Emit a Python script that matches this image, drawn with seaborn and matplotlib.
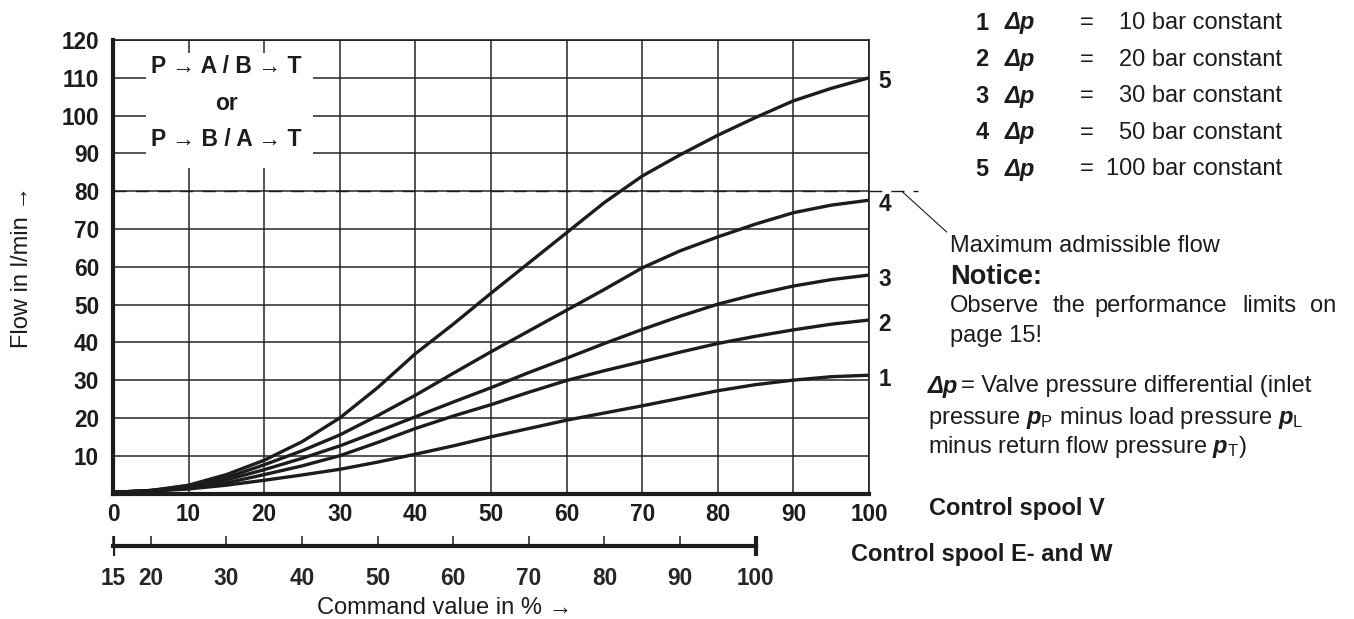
import matplotlib
matplotlib.use("Agg")
import matplotlib.pyplot as plt
import numpy as np
import pandas as pd
import seaborn as sns
from matplotlib import font_manager
from matplotlib.patches import Rectangle

# canvas size in pixels
W, H = 1354, 619

# command value in % (control spool V) and flow in l/min per curve
command = [0, 5, 10, 15, 20, 25, 30, 35, 40, 45, 50,
           55, 60, 65, 70, 75, 80, 85, 90, 95, 100]
flow_10bar = [0.3, 0.6, 1.2, 2.2, 3.5, 4.9, 6.4, 8.3, 10.4, 12.6, 15.0,
              17.2, 19.4, 21.3, 23.2, 25.2, 27.2, 28.8, 30.0, 30.9, 31.3]
flow_20bar = [0.3, 0.7, 1.5, 2.8, 5.0, 7.3, 10.0, 13.5, 17.2, 20.5, 23.5,
              26.8, 29.9, 32.5, 34.9, 37.4, 39.7, 41.6, 43.3, 44.8, 45.9]
flow_30bar = [0.3, 0.8, 1.7, 3.6, 6.3, 9.3, 12.6, 16.4, 20.3, 24.2, 28.0,
              32.0, 35.8, 39.7, 43.4, 46.9, 50.1, 52.7, 54.9, 56.6, 57.8]
flow_50bar = [0.3, 0.8, 1.9, 4.2, 7.6, 11.3, 15.5, 20.6, 26.0, 31.8, 37.5,
              43.0, 48.5, 54.0, 59.7, 64.2, 67.9, 71.3, 74.3, 76.3, 77.6]
flow_100bar = [0.3, 0.8, 2.2, 5.0, 8.8, 13.7, 20.0, 28.0, 37.0, 44.8, 53.0,
               61.0, 69.0, 77.0, 84.0, 89.6, 94.8, 99.5, 103.9, 107.2, 110.0]

curve_ids = ["1", "2", "3", "4", "5"]
dp_bar = [10, 20, 30, 50, 100]
x_ticks = [0, 10, 20, 30, 40, 50, 60, 70, 80, 90, 100]
y_ticks = [10, 20, 30, 40, 50, 60, 70, 80, 90, 100, 110, 120]
lower_ticks = [15, 20, 30, 40, 50, 60, 70, 80, 90, 100]   # control spool E and W
max_flow = 80

ink = "#1c1c1c"

sns.set_theme(style="white")
plt.rcParams["font.family"] = ["Liberation Sans", "DejaVu Sans"]
plt.rcParams["mathtext.fontset"] = "custom"
plt.rcParams["mathtext.rm"] = "Liberation Sans"
plt.rcParams["mathtext.it"] = "Liberation Sans:italic:bold"
plt.rcParams["mathtext.bf"] = "Liberation Sans:bold"
plt.rcParams["text.color"] = ink

# narrow bold digits like the datasheet, if the narrow face is there
have_narrow = "Liberation Sans Narrow" in {f.name for f in font_manager.fontManager.ttflist}
if have_narrow:
    tick_kw = dict(fontfamily=["Liberation Sans Narrow", "Liberation Sans"], fontweight="bold", fontsize=17)
else:
    tick_kw = dict(fontfamily=["Liberation Sans"], fontweight="bold", fontsize=16.3)

fs = 17


def fig_text(x, y, s, **kw):
    # place text by pixel position, measured from the top left
    return fig.text(x / W, 1 - y / H, s, **kw)


fig = plt.figure(figsize=(W / 100, H / 100), dpi=100)
ax = fig.add_axes([113 / W, 1 - 493.5 / H, 756 / W, 453.5 / H])

series = [flow_10bar, flow_20bar, flow_30bar, flow_50bar, flow_100bar]
df = pd.DataFrame({
    "command": np.tile(command, len(series)),
    "flow": np.concatenate(series),
    "curve": np.repeat(curve_ids, len(command)),
})

sns.lineplot(data=df, x="command", y="flow", hue="curve", palette=[ink] * 5,
             linewidth=2.4, legend=False, ax=ax, zorder=4)

ax.set_xlim(0, 100)
ax.set_ylim(0, 120)
ax.set_xticks(x_ticks)
ax.set_yticks([0] + y_ticks)
ax.set_xticklabels([str(v) for v in x_ticks], **tick_kw)
ax.set_yticklabels([""] + [str(v) for v in y_ticks], **tick_kw)
ax.tick_params(axis="both", length=0, colors=ink)
ax.tick_params(axis="x", pad=7)
ax.tick_params(axis="y", pad=10)
ax.grid(True, color="#262626", linewidth=1.1)
ax.set_axisbelow(True)
for side in ["left", "bottom"]:
    ax.spines[side].set_linewidth(3.0)
    ax.spines[side].set_color(ink)
for side in ["top", "right"]:
    ax.spines[side].set_linewidth(1.2)
    ax.spines[side].set_color(ink)

ax.set_xlabel("")
ax.set_ylabel("Flow in l/min →", fontsize=fs, color=ink)
ax.yaxis.set_label_coords(-0.106, 0.5)

# maximum admissible flow line runs out past the frame
ax.axhline(max_flow, xmin=0, xmax=(918 - 113) / 756, color=ink, linewidth=1.0,
           dashes=(9.5, 6.5), clip_on=False, zorder=3)

# direction box: white panel that breaks the grid, then the text
ax.add_patch(Rectangle((4.4, 86.1), 22.1, 30.4, facecolor="white", edgecolor="none", zorder=2))
ax.text(15, 103.3, "P → A / B → T\nor\nP → B / A → T", ha="center", va="center",
        ma="center", fontsize=16.5, fontweight="bold", linespacing=1.75, zorder=3)

# curve numbers at the right end
for cid, vals in zip(curve_ids, series):
    ax.annotate(cid, xy=(command[-1], vals[-1]), xytext=(7, -3),
                textcoords="offset points", ha="left", va="center",
                annotation_clip=False, **tick_kw)

# lower scale for control spool E- and W
ax2 = fig.add_axes([113 / W, 1 - 556 / H, 756 / W, 20 / H])
ax2.set_xlim(15, 115)
ax2.set_ylim(-1, 1)
ax2.patch.set_alpha(0)
for side in ["left", "right", "top"]:
    ax2.spines[side].set_visible(False)
ax2.spines["bottom"].set_position(("data", 0))
ax2.spines["bottom"].set_bounds(lower_ticks[0], lower_ticks[-1])
ax2.spines["bottom"].set_linewidth(3.0)
ax2.spines["bottom"].set_color(ink)
ax2.set_yticks([])
ax2.set_xticks(lower_ticks)
ax2.set_xticklabels([str(v) for v in lower_ticks], **tick_kw)
ax2.tick_params(axis="x", direction="in", length=7, width=1.1, color=ink, pad=15, bottom=True)
ax2.vlines([lower_ticks[0], lower_ticks[-1]], -1, 1, color=ink, linewidth=3.0)

fig_text(445, 608, "Command value in % →", ha="center", va="center", fontsize=fs)

# legend block on the right
for i, (cid, dp) in enumerate(zip(curve_ids, dp_bar)):
    y = 23 + i * 36.6
    fig_text(982, y, cid, ha="center", va="center", fontsize=fs, fontweight="bold")
    fig_text(1005, y, "Δp", ha="left", va="center", fontsize=fs, fontweight="bold", fontstyle="italic")
    fig_text(1087, y, "=", ha="center", va="center", fontsize=fs)
    fig_text(1282, y, f"{dp} bar constant", ha="right", va="center", fontsize=fs)

ax.annotate("Maximum admissible flow", xy=((901.7 - 113) / 7.56, max_flow), xycoords="data",
            xytext=(950, H - 246), textcoords="figure pixels", ha="left", va="center",
            fontsize=fs, annotation_clip=False,
            arrowprops=dict(arrowstyle="-", color=ink, lw=0.8, relpos=(0, 1),
                            shrinkA=0, shrinkB=0))
fig_text(950, 277, "Notice:", ha="left", va="center", fontsize=19.5, fontweight="bold")
for word, wx in zip(["Observe", "the", "performance", "limits", "on"],
                    [950, 1053, 1094, 1242, 1310]):
    fig_text(wx, 306, word, ha="left", va="center", fontsize=fs)
fig_text(950, 336, "page 15!", ha="left", va="center", fontsize=fs)

fig_text(928, 386, "Δp", ha="left", va="center", fontsize=fs, fontweight="bold", fontstyle="italic")
fig_text(961, 386, "= Valve pressure differential (inlet", ha="left", va="center", fontsize=fs)
fig_text(928, 418, r"pressure $p_\mathrm{P}$ minus load pressure $p_\mathrm{L}$",
         ha="left", va="center", fontsize=fs)
fig_text(928, 447, r"minus return flow pressure $p_\mathrm{T}$)", ha="left", va="center", fontsize=fs)

fig_text(929, 509, "Control spool V", ha="left", va="center", fontsize=fs, fontweight="bold")
fig_text(851, 554, "Control spool E- and W", ha="left", va="center", fontsize=fs, fontweight="bold")

fig.savefig("out.png", dpi=100)
